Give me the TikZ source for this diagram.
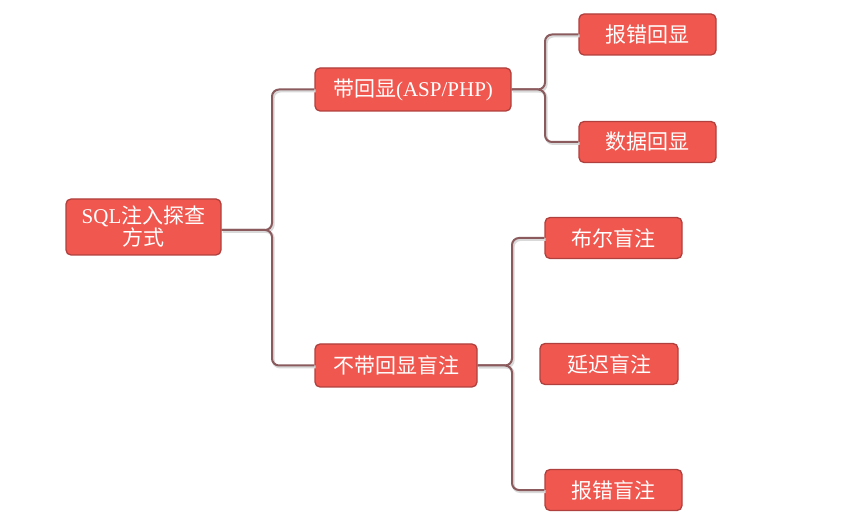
\documentclass[tikz,border=0pt]{standalone}
\usepackage{fontspec}
\setmainfont{Liberation Serif}
\newfontfamily\cjk{Noto Sans CJK SC}
\usetikzlibrary{calc}
\definecolor{boxFill}{HTML}{F0574F}
\definecolor{boxLine}{HTML}{B0403D}
\definecolor{linkCol}{HTML}{8A5A5D}
\tikzset{
	topic/.style={draw=boxLine, fill=boxFill, line width=1.3pt, rounded corners=5pt, text=white, inner sep=0pt, align=center, font=\fontsize{21}{25}\selectfont},
	link/.style={draw=linkCol, line width=2pt, rounded corners=7pt, preaction={draw=black!15, line width=3pt, transform canvas={shift={(1.2pt,-1.5pt)}}}},
}

\begin{document}
\begin{tikzpicture}[x=1pt, y=-1pt]
	\useasboundingbox (0,0) rectangle (846,518);
		% topics
		\node[topic, minimum width=155pt, minimum height=56pt] (root) at (143.5,227) {SQL{\cjk 注入探查}\\[-3pt]{\cjk 方式}};
		\node[topic, minimum width=196pt, minimum height=43pt] (hui) at (413,89.5) {{\cjk 带回显}(ASP/PHP)};
		\node[topic, minimum width=162pt, minimum height=43pt] (bu) at (396,365.5) {\cjk 不带回显盲注};
		\node[topic, minimum width=137pt, minimum height=41pt] (bao) at (647.5,34.5) {\cjk 报错回显};
		\node[topic, minimum width=137pt, minimum height=41pt] (shu) at (647.5,142) {\cjk 数据回显};
		\node[topic, minimum width=137pt, minimum height=41pt] (bool) at (613.5,238) {\cjk 布尔盲注};
		\node[topic, minimum width=138pt, minimum height=41pt] (yan) at (609,364) {\cjk 延迟盲注};
		\node[topic, minimum width=137pt, minimum height=41pt] (mang) at (613.5,490) {\cjk 报错盲注};
		% bracket points
		\coordinate (b1) at (272,230);
		\coordinate (b2) at (545,90);
		\coordinate (b3) at (512,367);
		% brackets
		\draw[link] ([yshift=-3pt]root.east) -| (b1 |- hui.west) -- (hui.west);
		\draw[link] ([yshift=-3pt]root.east) -| (b1 |- bu.west) -- (bu.west);
		\draw[link] (hui.east) -| (b2 |- bao.west) -- (bao.west);
		\draw[link] (hui.east) -| (b2 |- shu.west) -- (shu.west);
		\draw[link] (bu.east) -| (b3 |- bool.west) -- (bool.west);
		\draw[link] (bu.east) -| (b3 |- mang.west) -- (mang.west);
\end{tikzpicture}
\end{document}
